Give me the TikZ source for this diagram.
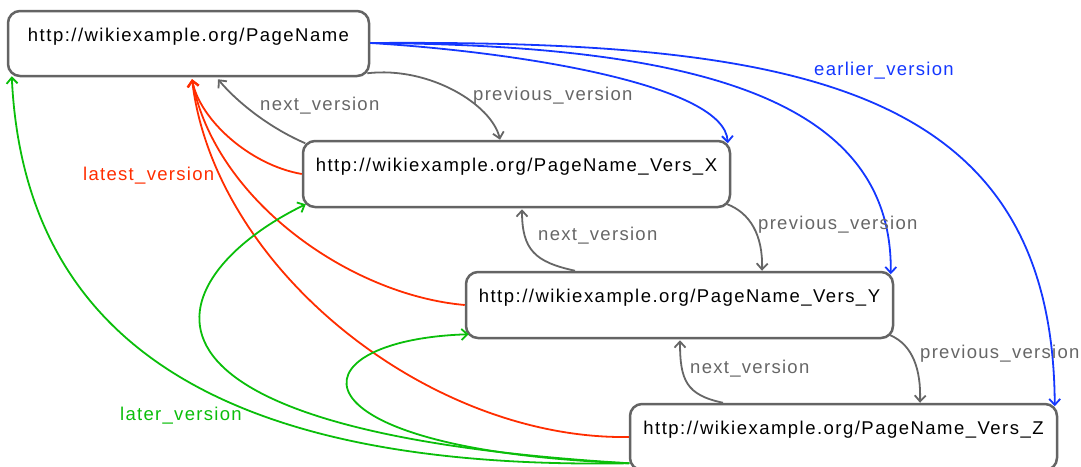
\documentclass[tikz,border=0pt]{standalone}
\usepackage{fontspec}
\setmainfont{Liberation Sans}[LetterSpace=8]
\usetikzlibrary{arrows.meta,calc}
\definecolor{boxgray}{RGB}{100,100,100}
\definecolor{edgegray}{RGB}{102,102,102}
\definecolor{bluecol}{RGB}{20,55,255}
\definecolor{redcol}{RGB}{255,45,0}
\definecolor{greencol}{RGB}{10,190,10}
\begin{document}
\begin{tikzpicture}[x=1pt,y=-1pt,
  page/.style={draw=boxgray, line width=2.5pt, rounded corners=12pt, fill=white,
    inner sep=0pt, text height=30.7pt, text depth=35.3pt, minimum width=427pt,
    font=\fontsize{18.5}{22}\selectfont, text=black},
  lbl/.style={inner sep=0pt, anchor=base west, font=\fontsize{18.5}{22}\selectfont\addfontfeature{LetterSpace=7}},
  conn/.style={line width=1.8pt, -{Straight Barb[length=6pt,width=11pt]}},
]
\useasboundingbox (0,0) rectangle (1081,466);
% pages
\node[page, minimum width=361pt, text depth=34.3pt] (A) at (188.5,43.5) {http://wikiexample.org/PageName};
\node[page] (X) at (516.5,174) {http://wikiexample.org/PageName\_Vers\_X};
\node[page] (Y) at (679.5,305) {http://wikiexample.org/PageName\_Vers\_Y};
\node[page] (Z) at (843.5,437) {http://wikiexample.org/PageName\_Vers\_Z};
\coordinate (Zg) at ($(Z.south west)+(0.5,-8)$);
% previous / next version
\draw[conn, edgegray] ($(A.south east)+(-3,-4)$) .. controls (430,66) and (492,105) .. ($(X.north)+(-16.5,0)$);
\draw[conn, edgegray] ($(X.north west)+(3.5,3.5)$) .. controls (270,128) and (238,103) .. ($(A.south)+(29.5,2)$);
\draw[conn, edgegray] ($(X.south east)+(-4,-4)$) .. controls (750,213) and (763,235) .. ($(Y.north)+(82.5,0)$);
\draw[conn, edgegray] ($(Y.north)+(-104.5,0)$) .. controls (535,262) and (522,250) .. ($(X.south)+(5.5,1)$);
\draw[conn, edgegray] ($(Y.south east)+(-4,-4)$) .. controls (913,345) and (921,370) .. ($(Z.north)+(76.5,0)$);
\draw[conn, edgegray] ($(Z.north)+(-120.5,0)$) .. controls (686,395) and (680,380) .. ($(Y.south)+(0.5,1)$);
% earlier version
\draw[conn, bluecol] ($(A.east)+(0,-0.5)$) .. controls (520,52) and (725,85) .. ($(X.north east)+(-3.5,3.5)$);
\draw[conn, bluecol] ($(A.east)+(0,-0.5)$) .. controls (700,45) and (893,100) .. ($(Y.north east)+(-3.5,3.5)$);
\draw[conn, bluecol] ($(A.east)+(0,-0.5)$) .. controls (800,40) and (1053,85) .. ($(Z.north east)+(-3.5,3.5)$);
% latest version
\draw[conn, redcol] (X.west) .. controls (250,165) and (200,120) .. ($(A.south)+(3.5,2)$);
\draw[conn, redcol] (Y.west) .. controls (350,295) and (215,200) .. ($(A.south)+(3.5,2)$);
\draw[conn, redcol] (Z.west) .. controls (430,440) and (215,270) .. ($(A.south)+(3.5,2)$);
% later version
\draw[conn, greencol] (Zg) .. controls (250,470) and (25,360) .. ($(A.south west)+(5,-1)$);
\draw[conn, greencol] (Zg) .. controls (70,430) and (170,270) .. ($(X.south west)+(4,-4)$);
\draw[conn, greencol] (Zg) .. controls (280,450) and (290,340) .. ($(Y.south west)+(4,-5)$);
% labels
\node[lbl, text=edgegray] (l1) at (473,100) {previous\_version};
\node[lbl, text=edgegray] (l2) at (260,110.7) {next\_version};
\node[lbl, text=edgegray] (l3) at (758,229.3) {previous\_version};
\node[lbl, text=edgegray] (l4) at (538,240.7) {next\_version};
\node[lbl, text=edgegray] (l5) at (920,358) {previous\_version};
\node[lbl, text=edgegray] (l6) at (690,373) {next\_version};
\node[lbl, text=bluecol] (l7) at (814,75) {earlier\_version};
\node[lbl, text=redcol] (l8) at (83,180) {latest\_version};
\node[lbl, text=greencol] (l9) at (120,420) {later\_version};
\end{tikzpicture}
\end{document}
